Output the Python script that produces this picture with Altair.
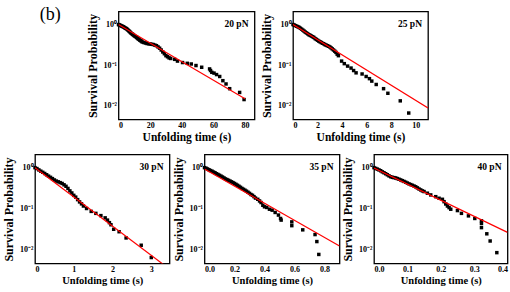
import altair as alt
import pandas as pd

FONT = "Liberation Serif"

# ---------------- data ----------------
# 20 pN
t20 = [0, 0.5, 1, 1.5, 2, 2.5, 3, 3.5, 4, 4.5, 5, 5.5, 6, 6.5, 7, 7.5, 8, 8.5, 9, 9.5,
       10, 10.5, 11, 11.5, 12, 12.5, 13, 13.5, 14, 14.5, 15, 16, 17, 18, 19, 20, 21, 22,
       23, 24, 25, 26, 27, 28, 29, 30, 31, 32, 33, 35.5, 37.3, 40.5, 43.5, 46, 49, 52.6,
       57.6, 58.2, 59, 60.4, 62, 64, 66, 68, 70.3, 76.6, 79.4]
p20 = [1.0, 0.98, 0.96, 0.94, 0.92, 0.9, 0.88, 0.86, 0.83, 0.81, 0.79, 0.76, 0.73, 0.70,
       0.67, 0.64, 0.61, 0.59, 0.57, 0.55, 0.53, 0.51, 0.50, 0.48, 0.46, 0.44, 0.43, 0.41,
       0.40, 0.39, 0.37, 0.36, 0.35, 0.34, 0.335, 0.33, 0.325, 0.32, 0.31, 0.30, 0.28,
       0.26, 0.235, 0.21, 0.19, 0.17, 0.16, 0.15, 0.145, 0.138, 0.125, 0.115, 0.11,
       0.106, 0.097, 0.088, 0.08, 0.073, 0.066, 0.063, 0.058, 0.052, 0.041, 0.034, 0.026,
       0.021, 0.014]
fit20_t = [0, 80]
fit20_p = [1.0, 0.0146]

# 25 pN
t25 = [0, 0.1, 0.2, 0.3, 0.4, 0.5, 0.6, 0.7, 0.8, 0.9, 1.0, 1.1, 1.2, 1.3, 1.4, 1.5, 1.6,
       1.7, 1.8, 1.9, 2.0, 2.1, 2.2, 2.3, 2.4, 2.5, 2.6, 2.7, 2.8, 2.9, 3.0, 3.1, 3.2, 3.3,
       3.4, 3.5, 3.6, 3.7, 3.96, 4.18, 4.45, 4.73, 4.94, 5.14, 5.63, 5.96, 6.23, 6.42,
       6.78, 7.38, 7.73, 8.74, 9.43]
p25 = [1.0, 0.97, 0.94, 0.91, 0.88, 0.85, 0.81, 0.77, 0.73, 0.69, 0.65, 0.62, 0.59, 0.56,
       0.54, 0.52, 0.50, 0.48, 0.45, 0.43, 0.41, 0.39, 0.375, 0.36, 0.345, 0.335, 0.32,
       0.31, 0.30, 0.29, 0.28, 0.265, 0.25, 0.235, 0.22, 0.205, 0.185, 0.17, 0.125, 0.108,
       0.094, 0.084, 0.073, 0.064, 0.06, 0.052, 0.046, 0.04, 0.033, 0.026, 0.02, 0.013,
       0.0065]
fit25_t = [0, 11]
fit25_p = [1.0, 0.0087]

# 30 pN
t30 = [0, 0.05, 0.1, 0.15, 0.2, 0.25, 0.3, 0.35, 0.4, 0.45, 0.5, 0.55, 0.6, 0.65, 0.7,
       0.75, 0.8, 0.85, 0.9, 0.95, 1.0, 1.05, 1.1, 1.15, 1.2, 1.25, 1.33, 1.45, 1.57, 1.70,
       1.81, 1.87, 1.92, 1.96, 2.03, 2.17, 2.35, 2.74, 3.0]
p30 = [1.0, 0.95, 0.88, 0.82, 0.77, 0.72, 0.67, 0.62, 0.58, 0.54, 0.5, 0.47, 0.45, 0.43,
       0.41, 0.38, 0.35, 0.31, 0.27, 0.24, 0.21, 0.19, 0.165, 0.145, 0.13, 0.115, 0.1,
       0.085, 0.076, 0.067, 0.059, 0.052, 0.045, 0.04, 0.031, 0.027, 0.019, 0.0126, 0.0063]
fit30_t = [0, 3.35]
fit30_p = [1.0, 0.004]

# 35 pN
t35 = [0, 0.01, 0.02, 0.03, 0.04, 0.05, 0.06, 0.07, 0.08, 0.09, 0.1, 0.11, 0.12, 0.13,
       0.14, 0.15, 0.16, 0.17, 0.18, 0.19, 0.2, 0.21, 0.22, 0.23, 0.24, 0.25, 0.26, 0.27,
       0.28, 0.29, 0.3, 0.31, 0.32, 0.33, 0.34, 0.355, 0.367, 0.377, 0.389, 0.4, 0.415,
       0.433, 0.451, 0.471, 0.493, 0.507, 0.511, 0.582, 0.582, 0.655, 0.737, 0.749, 0.762]
p35 = [1.0, 0.97, 0.93, 0.89, 0.85, 0.82, 0.78, 0.75, 0.71, 0.68, 0.65, 0.62, 0.59, 0.56,
       0.53, 0.51, 0.49, 0.47, 0.45, 0.43, 0.41, 0.39, 0.37, 0.35, 0.33, 0.31, 0.295, 0.28,
       0.265, 0.25, 0.235, 0.22, 0.21, 0.195, 0.18, 0.168, 0.153, 0.14, 0.12, 0.11, 0.106,
       0.096, 0.091, 0.08, 0.069, 0.057, 0.052, 0.047, 0.038, 0.030, 0.023, 0.0155, 0.0075]
fit35_t = [0, 0.9]
fit35_p = [0.93, 0.012]

# 40 pN
t40 = [0, 0.005, 0.01, 0.015, 0.02, 0.025, 0.03, 0.035, 0.04, 0.045, 0.05, 0.055, 0.06,
       0.065, 0.07, 0.075, 0.08, 0.085, 0.09, 0.095, 0.1, 0.105, 0.11, 0.115, 0.12, 0.125,
       0.13, 0.135, 0.14, 0.145, 0.15, 0.16, 0.17, 0.185, 0.195, 0.205, 0.21, 0.215, 0.22,
       0.225, 0.23, 0.25, 0.262, 0.283, 0.302, 0.322, 0.322, 0.322, 0.338, 0.348, 0.368]
p40 = [1.0, 0.96, 0.92, 0.88, 0.84, 0.79, 0.75, 0.71, 0.67, 0.63, 0.6, 0.58, 0.57, 0.56,
       0.54, 0.52, 0.5, 0.48, 0.46, 0.44, 0.42, 0.40, 0.385, 0.37, 0.355, 0.34, 0.32, 0.30,
       0.285, 0.27, 0.26, 0.237, 0.215, 0.195, 0.178, 0.168, 0.147, 0.129, 0.115, 0.105,
       0.096, 0.089, 0.076, 0.066, 0.057, 0.05, 0.043, 0.034, 0.024, 0.016, 0.0083]
fit40_t = [0, 0.4]
fit40_p = [0.98, 0.026]

panel_labels = ["20 pN", "25 pN", "30 pN", "35 pN", "40 pN"]
x_domains = [[0, 86], [0, 11], [0, 3.47], [0, 0.9], [0, 0.4]]
x_ticks = [[0, 20, 40, 60, 80], [0, 2, 4, 6, 8, 10], [0, 1, 2, 3],
           [0, 0.2, 0.4, 0.6, 0.8], [0, 0.1, 0.2, 0.3, 0.4]]
x_formats = ["d", "d", "d", ".1f", ".1f"]
y_domain = [0.0045, 2.1]
y_ticks = [0.01, 0.1, 1]
figure_tag = "(b)"
x_title = "Unfolding time (s)"
y_title = "Survival Probability"

Y_LABELS = "datum.value >= 0.5 ? '10\u2070' : (datum.value >= 0.05 ? '10\u207b\u00b9' : '10\u207b\u00b2')"


def y_enc(color):
    return alt.Y("p:Q",
                 scale=alt.Scale(type="log", domain=y_domain, nice=False),
                 axis=alt.Axis(values=y_ticks, labelExpr=Y_LABELS, title=y_title,
                               labelFont=FONT, titleFont=FONT, titlePadding=4,
                               labelColor=color, titleColor=color))


def panel(i, t, p, ft, fp, width, height, xtitle_size):
    pts = pd.DataFrame({"t": t, "p": p})
    fit = pd.DataFrame({"t": ft, "p": fp})
    lab = pd.DataFrame({"label": [panel_labels[i]]})
    x = alt.X("t:Q",
              scale=alt.Scale(domain=x_domains[i], nice=False, zero=False),
              axis=alt.Axis(values=x_ticks[i], format=x_formats[i], title=x_title,
                            titleFontSize=xtitle_size, labelFont=FONT, titleFont=FONT,
                            titlePadding=2, labelColor="black"))
    y = y_enc("black")
    points = alt.Chart(pts).mark_square(size=12, color="black", opacity=1).encode(x=x, y=y)
    line = alt.Chart(fit).mark_line(color="#ff0000", strokeWidth=1.2, clip=True).encode(x=x, y=y)
    text = alt.Chart(lab).mark_text(align="right", baseline="middle", font=FONT,
                                    fontWeight="bold", fontSize=9.5, color="black").encode(
        x=alt.value(width - 6), y=alt.value(12), text="label:N")
    return alt.layer(points, line, text).properties(
        width=width, height=height,
        view=alt.ViewBackground(stroke="black", strokeWidth=1.3))


p1 = panel(0, t20, p20, fit20_t, fit20_p, 136, 108, 11.5)
p2 = panel(1, t25, p25, fit25_t, fit25_p, 135, 108, 11.5)
p3 = panel(2, t30, p30, fit30_t, fit30_p, 134.5, 109, 10.5)
p4 = panel(3, t35, p35, fit35_t, fit35_p, 135, 109, 10.5)
p5 = panel(4, t40, p40, fit40_t, fit40_p, 133.5, 109, 10.5)

# spacer in front of the top row: carries "(b)" and an invisible copy of the
# y axis so that both rows have the same left extent
spacer_axis = alt.Chart(pd.DataFrame({"p": y_ticks})).mark_point(opacity=0).encode(
    y=y_enc("transparent"))
spacer_text = alt.Chart(pd.DataFrame({"tag": [figure_tag]})).mark_text(
    align="center", baseline="middle", font=FONT, fontSize=18, color="black").encode(
    x=alt.value(15.3), y=alt.value(3.5), text="tag:N")
spacer = alt.layer(spacer_axis, spacer_text).properties(
    width=44.1, height=108, view=alt.ViewBackground(stroke="transparent"))

top = alt.hconcat(spacer, p1, p2, spacing=38.5, bounds="flush")
bottom = alt.hconcat(p3, p4, p5, spacing=34.5, bounds="flush")

chart = alt.vconcat(top, bottom, spacing=9).properties(
    padding={"left": 1, "top": 5.5, "right": 0, "bottom": 0}
).configure_axis(
    labelFont=FONT, labelFontWeight="bold", labelFontSize=8, labelColor="black",
    titleFont=FONT, titleFontWeight="bold", titleFontSize=12, titleColor="black",
    ticks=False, domain=False, grid=False, labelPadding=2, titlePadding=2
).configure_view(stroke="transparent")

chart.save("out.html", embed_options={"renderer": "svg", "actions": False})
